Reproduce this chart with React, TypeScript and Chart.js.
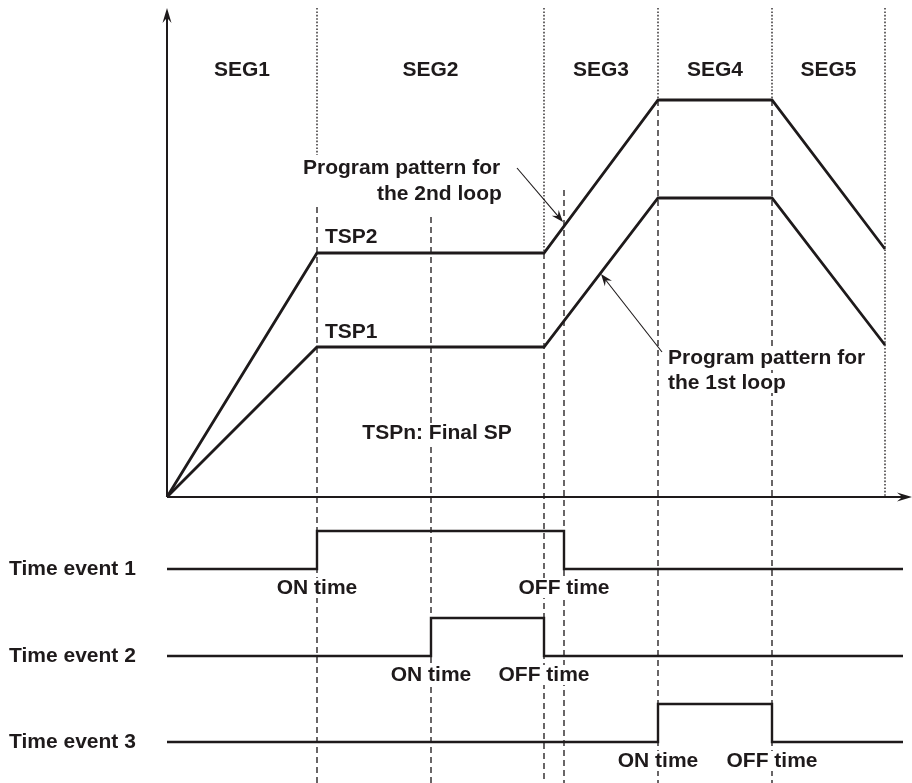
import React, { useEffect, useRef } from "react";
import { Chart, registerables } from "chart.js";

Chart.register(...registerables);

// ---------- data (time units on x, setpoint units on y) ----------
const segmentLabels = ["SEG1", "SEG2", "SEG3", "SEG4", "SEG5"];
const patternTimes = [0, 150, 377, 491, 605, 718];
const loop1Values = [0, 150, 150, 299, 299, 152];
const loop2Values = [0, 244, 244, 397, 397, 248];

const eventNames = ["Time event 1", "Time event 2", "Time event 3"];
const eventOnTimes = [150, 264, 491];
const eventOffTimes = [397, 377, 605];
const eventEndTime = 736;

// vertical guide lines: time, dotted part [top, bottom], dashed part [top, bottom]
const guideTimes = [150, 264, 377, 397, 491, 605, 718];
const guideDotted: (number[] | null)[] = [[489, 342], null, [489, 244], null, [489, 397], [489, 397], [489, 0]];
const guideDashed: (number[] | null)[] = [[290, -286], [280, -286], [244, -286], [307, -286], [397, -286], [397, -286], null];

// ---------- layout ----------
const X_MIN = -167;
const X_MAX = 745;
const Y_MIN = -286;
const Y_MAX = 497;
const Y_AXIS_TOP = 489;
const X_AXIS_END = 745;
const eventLaneLow = [-72, -159, -245];
const eventLaneHeight = 38;
const INK = "#1e1a1b";
const GUIDE = "#2a2627";
const FONT = 'bold 21px "Liberation Sans", Arial, Helvetica, sans-serif';

type Pt = { x: number; y: number };

function buildDatasets() {
  const ds: any[] = [];
  const lineBase = {
    showLine: true,
    pointRadius: 0,
    borderColor: INK,
    backgroundColor: INK,
    fill: false,
    tension: 0,
    clip: false,
  };
  ds.push({
    ...lineBase,
    label: "Loop 2",
    data: patternTimes.map((t, i) => ({ x: t, y: loop2Values[i] })),
    borderWidth: 2.8,
    order: 0,
    borderJoinStyle: "miter",
  });
  ds.push({
    ...lineBase,
    label: "Loop 1",
    data: patternTimes.map((t, i) => ({ x: t, y: loop1Values[i] })),
    borderWidth: 2.8,
    order: 0,
    borderJoinStyle: "miter",
  });
  eventNames.forEach((name, i) => {
    const low = eventLaneLow[i];
    const high = low + eventLaneHeight;
    const data: Pt[] = [
      { x: 0, y: low },
      { x: eventOnTimes[i], y: high },
      { x: eventOffTimes[i], y: low },
      { x: eventEndTime, y: low },
    ];
    ds.push({
      ...lineBase,
      label: name,
      data,
      stepped: "before",
      borderWidth: 2.4,
      order: 0,
    });
  });
  guideTimes.forEach((t, i) => {
    const dt = guideDotted[i];
    if (dt) {
      ds.push({
        ...lineBase,
        label: "guide-dot-" + i,
        data: [{ x: t, y: dt[0] }, { x: t, y: dt[1] }],
        borderColor: GUIDE,
        borderWidth: 1.4,
        borderDash: [1.6, 1.8],
        order: 5,
      });
    }
    const dd = guideDashed[i];
    if (dd) {
      ds.push({
        ...lineBase,
        label: "guide-dash-" + i,
        data: [{ x: t, y: dd[0] }, { x: t, y: dd[1] }],
        borderColor: GUIDE,
        borderWidth: 1.4,
        borderDash: [6, 4],
        order: 5,
      });
    }
  });
  return ds;
}

const diagramPlugin = {
  id: "diagram",
  afterDatasetsDraw(chart: any) {
    const { ctx } = chart;
    const xs = chart.scales.x;
    const ys = chart.scales.y;
    const px = (v: number) => xs.getPixelForValue(v);
    const py = (v: number) => ys.getPixelForValue(v);

    ctx.save();
    ctx.strokeStyle = INK;
    ctx.fillStyle = INK;

    const arrowHead = (x1: number, y1: number, x2: number, y2: number, len: number, half: number) => {
      const a = Math.atan2(y2 - y1, x2 - x1);
      const bx = x2 - len * Math.cos(a);
      const by = y2 - len * Math.sin(a);
      ctx.beginPath();
      ctx.moveTo(x2, y2);
      ctx.lineTo(bx + half * Math.sin(a), by - half * Math.cos(a));
      ctx.lineTo(bx + 0.35 * len * Math.cos(a), by + 0.35 * len * Math.sin(a));
      ctx.lineTo(bx - half * Math.sin(a), by + half * Math.cos(a));
      ctx.closePath();
      ctx.fill();
    };

    // axes
    ctx.lineWidth = 2;
    ctx.setLineDash([]);
    ctx.beginPath();
    ctx.moveTo(px(0), py(0));
    ctx.lineTo(px(0), py(Y_AXIS_TOP) + 8);
    ctx.moveTo(px(0), py(0));
    ctx.lineTo(px(X_AXIS_END) - 8, py(0));
    ctx.stroke();
    arrowHead(px(0), py(0), px(0), py(Y_AXIS_TOP), 15, 4.5);
    arrowHead(px(0), py(0), px(X_AXIS_END), py(0), 15, 4.5);

    // annotation arrows
    ctx.lineWidth = 1.1;
    const annots = [
      [350, 329, 396, 275],
      [495, 145, 434, 223],
    ];
    annots.forEach(([x1, y1, x2, y2]) => {
      const X1 = px(x1), Y1 = py(y1), X2 = px(x2), Y2 = py(y2);
      const a = Math.atan2(Y2 - Y1, X2 - X1);
      ctx.beginPath();
      ctx.moveTo(X1, Y1);
      ctx.lineTo(X2 - 6 * Math.cos(a), Y2 - 6 * Math.sin(a));
      ctx.stroke();
      arrowHead(X1, Y1, X2, Y2, 12, 4.5);
    });

    // text
    ctx.font = FONT;
    ctx.textBaseline = "middle";
    const text = (s: string, xv: number, yv: number, align: CanvasTextAlign, bg = false) => {
      ctx.textAlign = align;
      const X = px(xv);
      const Y = py(yv);
      if (bg) {
        const w = ctx.measureText(s).width;
        let left = X;
        if (align === "center") left = X - w / 2;
        else if (align === "right") left = X - w;
        ctx.fillStyle = "#ffffff";
        ctx.fillRect(left - 2, Y - 10, w + 4, 20);
        ctx.fillStyle = INK;
      }
      ctx.fillText(s, X, Y);
    };

    segmentLabels.forEach((s, i) => {
      text(s, (patternTimes[i] + patternTimes[i + 1]) / 2, 427, "center");
    });

    text("TSP2", 158, loop2Values[1] + 16, "left");
    text("TSP1", 158, loop1Values[1] + 15, "left");
    text("TSPn: Final SP", 270, 64, "center", true);

    text("Program pattern for", 136, 329, "left", true);
    text("the 2nd loop", 210, 303, "left", true);
    text("Program pattern for", 501, 139, "left", true);
    text("the 1st loop", 501, 114, "left", true);

    eventNames.forEach((name, i) => {
      text(name, -158, eventLaneLow[i], "left");
      text("ON time", eventOnTimes[i], eventLaneLow[i] - 19, "center", true);
      text("OFF time", eventOffTimes[i], eventLaneLow[i] - 19, "center", true);
    });

    ctx.restore();
  },
};

export default function App() {
  const canvasRef = useRef<HTMLCanvasElement | null>(null);

  useEffect(() => {
    const canvas = canvasRef.current;
    if (!canvas) return;
    const chart = new Chart(canvas, {
      type: "scatter",
      data: { datasets: buildDatasets() },
      options: {
        responsive: false,
        animation: false,
        devicePixelRatio: 1,
        events: [],
        layout: { padding: 0 },
        plugins: {
          legend: { display: false },
          tooltip: { enabled: false },
        },
        scales: {
          x: { type: "linear", min: X_MIN, max: X_MAX, display: false },
          y: { type: "linear", min: Y_MIN, max: Y_MAX, display: false },
        },
      },
      plugins: [diagramPlugin],
    });
    return () => chart.destroy();
  }, []);

  return (
    <div style={{ position: "fixed", left: 0, top: 0, width: 912, height: 783, background: "#ffffff" }}>
      <canvas ref={canvasRef} width={912} height={783} style={{ display: "block" }} />
    </div>
  );
}
